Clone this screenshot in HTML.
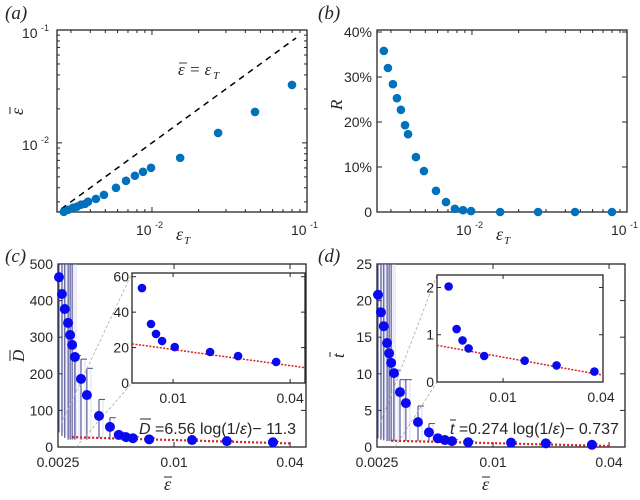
<!DOCTYPE html>
<html><head><meta charset="utf-8"><style>
body{margin:0;background:#fff;}
svg text{font-family:"Liberation Sans",sans-serif;fill:#262626;}
.it{font-family:"Liberation Serif",serif;font-style:italic;}
</style></head><body>
<svg id="fig" width="640" height="495" viewBox="0 0 640 495" xmlns="http://www.w3.org/2000/svg"></svg>
<script>
// ---- data ----
const aX = [0.00270,0.00287,0.00309,0.00328,0.00348,0.00370,0.00387,0.00435,0.00490,0.00586,0.00680,0.00776,0.00875,0.00986,0.0152,0.0267,0.0462,0.0800];
const aY = [0.00245,0.00255,0.00266,0.00272,0.00283,0.00288,0.00301,0.00319,0.00346,0.00400,0.00461,0.00511,0.00554,0.00601,0.00736,0.01225,0.0188,0.0326];
const bR = [35.8,32.0,28.4,25.3,22.7,19.3,17.3,12.2,9.1,4.7,2.2,0.7,0.4,0.2,0,0,0,0];
const cX = [0.00253,0.00262,0.00271,0.00282,0.00289,0.00296,0.00306,0.00329,0.00353,0.00408,0.00465,0.00517,0.00563,0.00612,0.00743,0.0124,0.0188,0.0326];
const cD = [464,418,377,339,306,279,246,186,142,85,55,33,27,24,21,19,16,13];
const cErrHi = [700,700,700,700,700,700,250,240,215,130,80,40,30,28,25,22,18,15];
const cErrLo = [40,30,25,20,20,20,20,20,20,25,20,20,20,20,18,16,14,11];
const cInX = [0.00692,0.00770,0.00817,0.00878,0.0102,0.0155,0.0216,0.0339];
const cInD = [53.6,33.3,27.7,23.7,20.3,17.5,15.2,11.9];
const dT = [20.8,18.4,16.5,14.2,12.8,11.5,10.1,7.5,6.0,3.4,2.0,1.2,0.95,0.8,0.65,0.6,0.5,0.3];
const dErrHi = [30,30,30,30,30,30,10.5,9.2,9.2,5.6,3.2,1.5,1.2,1.0,0.8,0.7,0.6,0.4];
const dErrLo = [1.2,1.0,0.9,0.8,0.8,0.8,0.8,0.8,0.8,0.8,0.8,0.8,0.7,0.6,0.5,0.5,0.4,0.2];
const dInX = [0.00470,0.00525,0.00570,0.00620,0.00770,0.0135,0.0210,0.0355];
const dInT = [2.02,1.12,0.88,0.71,0.55,0.45,0.35,0.22];
const yTicksB = [0,10,20,30,40];
const yTicksC = [0,100,200,300,400,500];
const yTicksD = [0,5,10,15,20,25];
const fitC = [6.56,-11.3];
const fitD = [0.274,-0.737];

const NS="http://www.w3.org/2000/svg";
const svg=document.getElementById('fig');
function el(tag,attrs,parent){const e=document.createElementNS(NS,tag);for(const k in attrs)e.setAttribute(k,attrs[k]);(parent||svg).appendChild(e);return e;}
function txt(s,x,y,o,parent){const t=el('text',Object.assign({x:x,y:y},o||{}),parent);t.textContent=s;return t;}
function bar(x,y,w){el('line',{x1:x,y1:y,x2:x+w,y2:y,stroke:'#262626','stroke-width':1});}
function logS(d0,d1,p0,p1){return v=>p0+(Math.log10(v)-Math.log10(d0))/(Math.log10(d1)-Math.log10(d0))*(p1-p0);}
function linS(d0,d1,p0,p1){return v=>p0+(v-d0)/(d1-d0)*(p1-p0);}
function box(x0,y0,x1,y1,name){const r=el('rect',{x:x0,y:y0,width:x1-x0,height:y1-y0,fill:'#fff',stroke:'#262626','stroke-width':1.3});return r;}
function tickX(x,y0,y1,len){el('line',{x1:x,y1:y1,x2:x,y2:y1-len,stroke:'#262626','stroke-width':1});el('line',{x1:x,y1:y0,x2:x,y2:y0+len,stroke:'#262626','stroke-width':1});}
function tickY(y,x0,x1,len){el('line',{x1:x0,y1:y,x2:x0+len,y2:y,stroke:'#262626','stroke-width':1});el('line',{x1:x1,y1:y,x2:x1-len,y2:y,stroke:'#262626','stroke-width':1});}
function dot(x,y,r,fill,name){const c=el('circle',{cx:x,cy:y,r:r,fill:fill});return c;}

// ---- panel (a) ----
(function(){
 const L=57,R=307,T=30,B=212;
 const sx=logS(0.00244,0.1,L,R), sy=logS(0.00244,0.1,B,T);
 box(L,T,R,B,'panel-a-axes');
 for(let d=-3;d<=-2;d++)for(let m=1;m<10;m++){const v=m*Math.pow(10,d);if(v<0.00244||v>0.1)continue;tickX(sx(v),T,B,m==1?5:3);tickY(sy(v),L,R,m==1?5:3);}
 const ln=el('line',{x1:sx(0.0026),y1:sy(0.0026),x2:sx(0.085),y2:sy(0.085),stroke:'#000','stroke-width':1.5,'stroke-dasharray':'6,5'});
 
 aX.forEach((v,i)=>{dot(sx(v),sy(aY[i]),4.3,'#0072bd','point-a');});
})();
const idl=txt('ε = ε',178,75,{'class':'it','font-size':17});
el('line',{x1:179,y1:63,x2:187,y2:63,stroke:'#444','stroke-width':1});
txt('T',213,79,{'class':'it','font-size':11});
// panel a labels
txt('(a)',5,19,{'class':'it','font-size':19});
txt('10',22,38,{'font-size':14});txt('-1',41,31,{'font-size':9});
txt('10',22,150,{'font-size':14});txt('-2',41,143,{'font-size':9});
txt('10',136,235,{'font-size':14});txt('-2',155,228,{'font-size':9});
txt('10',291,235,{'font-size':14});txt('-1',310,228,{'font-size':9});
txt('ε',12,116,{'class':'it','font-size':18,transform:'rotate(-90 17 110)'});
el('line',{x1:10,y1:107,x2:10,y2:114,stroke:'#262626','stroke-width':1});
txt('ε',176,240,{'class':'it','font-size':18});txt('T',184,244,{'class':'it','font-size':11});

// ---- panel (b) ----
(function(){
 const L=377,R=627,T=30,B=212;
 const sx=logS(0.00244,0.1,L,R), sy=linS(0,40,B,32);
 box(L,T,R,B,'panel-b-axes');
 for(let d=-3;d<=-2;d++)for(let m=1;m<10;m++){const v=m*Math.pow(10,d);if(v<0.00244||v>0.1)continue;tickX(sx(v),T,B,m==1?5:3);}
 yTicksB.forEach(v=>{tickY(sy(v),L,R,5);const t=txt(v==0?'0':v+'%',L-5,sy(v)+5,{'font-size':14,'text-anchor':'end'});});
 aX.forEach((v,i)=>{dot(sx(v),sy(bR[i]),4.3,'#0072bd','point-b');});
})();
txt('(b)',318,19,{'class':'it','font-size':19});
txt('R',342,110,{'class':'it','font-size':17,transform:'rotate(-90 342 110)'});
txt('10',456,235,{'font-size':14});txt('-2',475,228,{'font-size':9});
txt('10',611,235,{'font-size':14});txt('-1',630,228,{'font-size':9});
txt('ε',496,240,{'class':'it','font-size':18});txt('T',504,244,{'class':'it','font-size':11});

// ---- bottom panels generic ----
function bottomPanel(o){
 const {L,R,T,B,ymax,ys,vals,hi,lo,fit,inL,inR,inT,inB,inX0,inX1,inYmax,inYt,inX,inV,prefix}=o;
 const sx=logS(0.0025,0.0484,L,R), sy=linS(0,ymax,B,T);
 box(L,T,R,B,prefix+'-axes');
 [0.0025,0.01,0.04].forEach(v=>{tickX(sx(v),T,B,5);});
 ys.forEach(v=>{tickY(sy(v),L,R,5);const t=txt(String(v),L-5,sy(v)+5,{'font-size':14,'text-anchor':'end'});});
 [['0.0025',0.0025],['0.01',0.01],['0.04',0.04]].forEach(p=>{const t=txt(p[0],sx(p[1]),B+20,{'font-size':14,'text-anchor':'middle'});});
 cX.forEach((v,i)=>{const x=sx(v);const y1=sy(Math.min(hi[i],ymax)),y2=sy(lo[i]);
  el('line',{x1:x+4,y1:y1,x2:x+4,y2:y2,stroke:'#c8c8f0','stroke-width':1,opacity:0.6});
  const e=el('line',{x1:x,y1:y1,x2:x,y2:y2,stroke:'#4a4a90','stroke-width':1.1});
  
  if(hi[i]<ymax)el('line',{x1:x,y1:y1,x2:x+6,y2:y1,stroke:'#4a4a90','stroke-width':1});});
 el('line',{x1:sx(0.0026),y1:sy(ymax*0.13),x2:inL,y2:inT,stroke:'#aaa','stroke-width':0.8,'stroke-dasharray':'3,2'});
 el('line',{x1:sx(0.0031),y1:sy(0),x2:inL,y2:inB,stroke:'#aaa','stroke-width':0.8,'stroke-dasharray':'3,2'});
 const fx=[0.00296,0.04];
 const f=el('line',{x1:sx(fx[0]),y1:sy(fit[0]*Math.log(1/fx[0])+fit[1]),x2:sx(fx[1]),y2:sy(fit[0]*Math.log(1/fx[1])+fit[1]),stroke:'#d62020','stroke-width':2.2,'stroke-dasharray':'2,2'});
 
 cX.forEach((v,i)=>{dot(sx(v),sy(vals[i]),5,'#0a0af0',prefix+'-point');});
 box(inL,inT,inR,inB,prefix+'-inset-axes');
 const ix=logS(inX0,inX1,inL,inR), iy=linS(0,inYmax,inB,inT+3);
 [0.01,0.04].forEach(v=>{if(ix(v)<=inR+1){tickX(ix(v),inT,inB,4);}const t=txt(v==0.01?'0.01':'0.04',Math.min(ix(v),inR-2),inB+20,{'font-size':14,'text-anchor':'middle'});});
 inYt.forEach(v=>{tickY(iy(v),inL,inR,4);const t=txt(String(v),inL-3,iy(v)+5,{'font-size':14,'text-anchor':'end'});});
 const g=el('line',{x1:inL,y1:iy(fit[0]*Math.log(1/inX0)+fit[1]),x2:inR,y2:iy(fit[0]*Math.log(1/inX1)+fit[1]),stroke:'#d62020','stroke-width':1.5,'stroke-dasharray':'2,1.5'});
 
 inX.forEach((v,i)=>{dot(ix(v),iy(inV[i]),4.3,'#0a0af0',prefix+'-inset-point');});
}
bottomPanel({L:58,R:306,T:264,B:447,ymax:500,ys:yTicksC,vals:cD,hi:cErrHi,lo:cErrLo,fit:fitC,
 inL:132,inR:305,inT:273,inB:383,inX0:0.00615,inX1:0.0477,inYmax:60.4,inYt:[0,20,40,60],inX:cInX,inV:cInD,prefix:'c'});
bottomPanel({L:377,R:625,T:264,B:447,ymax:25,ys:yTicksD,vals:dT,hi:dErrHi,lo:dErrLo,fit:fitD,
 inL:437,inR:603,inT:275,inB:382,inX0:0.004,inX1:0.04,inYmax:2.2,inYt:[0,1,2],inX:dInX,inV:dInT,prefix:'d'});

txt('(c)',5,262,{'class':'it','font-size':19});
txt('(d)',318,262,{'class':'it','font-size':19});
txt('D',24,362,{'class':'it','font-size':17,transform:'rotate(-90 24 362)'});
el('line',{x1:10,y1:350,x2:10,y2:361,stroke:'#262626','stroke-width':1});
txt('t',344,358,{'class':'it','font-size':17,transform:'rotate(-90 344 358)'});
el('line',{x1:330,y1:352,x2:330,y2:357,stroke:'#262626','stroke-width':1});
txt('ε',164,490,{'class':'it','font-size':18});bar(164,477,8);
txt('ε',482,490,{'class':'it','font-size':18});bar(482,477,8);
const eqc=txt('',139,434,{'font-family':'Liberation Serif,serif','font-size':16});
eqc.innerHTML='<tspan font-style="italic">D</tspan> =6.56 log(1/<tspan font-style="italic">ε</tspan>)− 11.3';
bar(140,419,11);
const eqd=txt('',450,434,{'font-family':'Liberation Serif,serif','font-size':16});
eqd.innerHTML='<tspan font-style="italic">t</tspan> =0.274 log(1/<tspan font-style="italic">ε</tspan>)− 0.737';
bar(450,420,6);
</script>
</body></html>
